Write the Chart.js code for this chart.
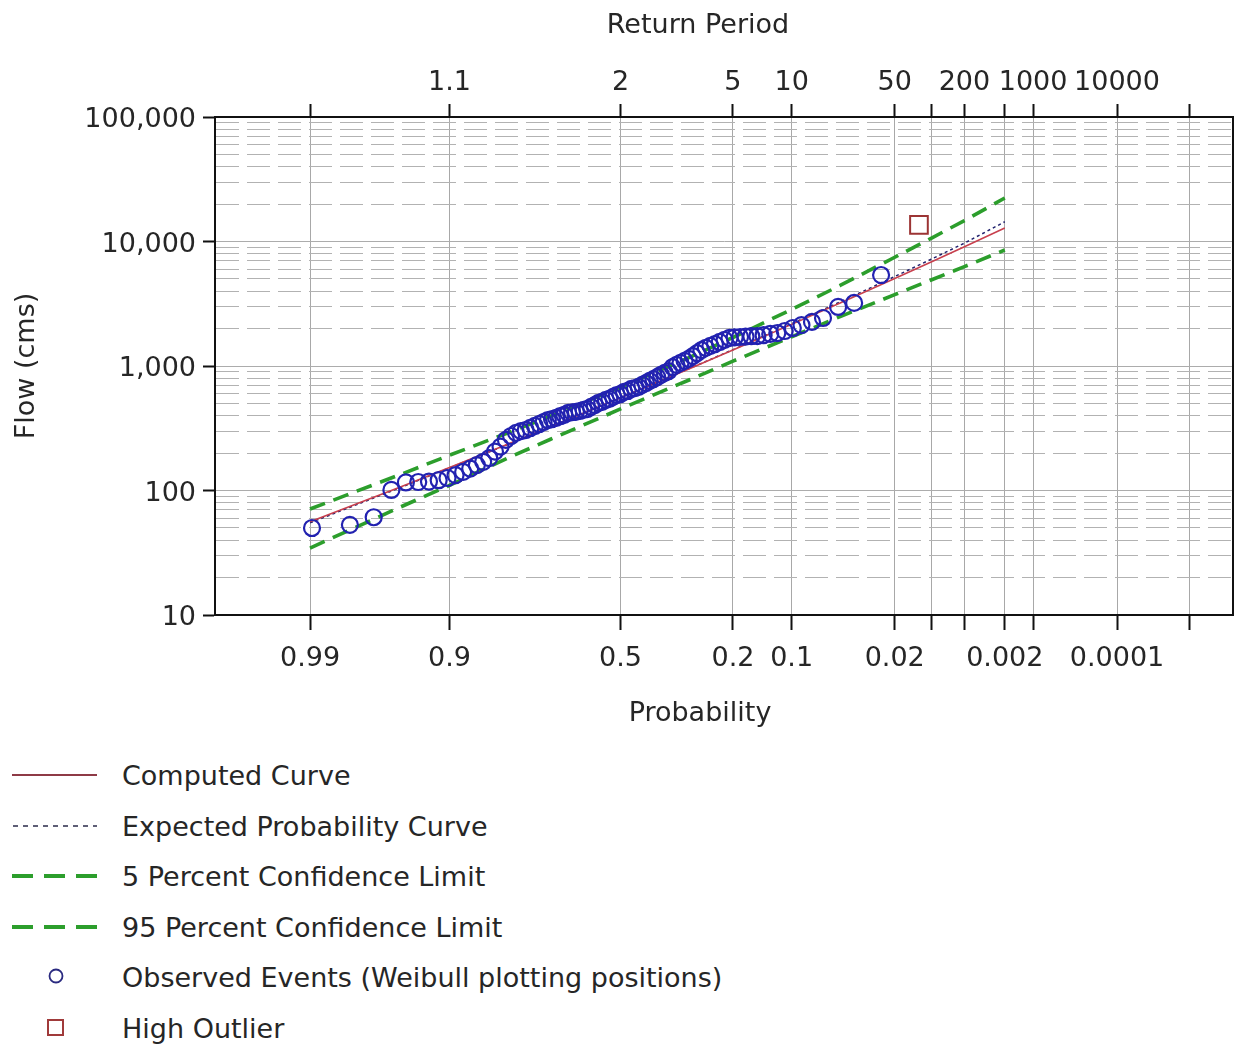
<!DOCTYPE html>
<html><head><meta charset="utf-8">
<script src="https://cdn.jsdelivr.net/npm/chart.js@4.4.1/dist/chart.umd.min.js"></script>
<style>
html,body{margin:0;padding:0;background:#fff;}
#wrap{position:relative;width:1237px;height:1045px;overflow:hidden;font-family:"DejaVu Sans",sans-serif;}
#c{position:absolute;left:0;top:0;}
#legend{position:absolute;left:0;top:750px;width:1237px;}
.row{position:relative;height:50.5px;}
.row svg{position:absolute;left:0;top:0;}
.row span{position:absolute;left:122px;top:1px;line-height:50.5px;font-size:27px;color:#262626;white-space:nowrap;}
</style></head><body>
<div id="wrap"><canvas id="c" width="1237" height="740"></canvas><div id="legend"></div></div>
<script>
// ---------------- data ----------------
// exceedance probability of each plotted observed event (rank 2 .. last)
const obsProb = [0.0255,0.0401,0.0516,0.0647,0.0758,0.0877,0.0985,0.1094,0.1202,0.1311,0.1420,0.1528,0.1637,0.1746,0.1854,0.1963,0.2072,0.2180,0.2289,0.2398,0.2506,0.2615,0.2724,0.2832,0.2941,0.3050,0.3158,0.3267,0.3376,0.3484,0.3593,0.3702,0.3810,0.3919,0.4028,0.4136,0.4245,0.4354,0.4462,0.4571,0.4680,0.4788,0.4897,0.5006,0.5114,0.5223,0.5332,0.5440,0.5549,0.5658,0.5766,0.5875,0.5984,0.6092,0.6201,0.6310,0.6418,0.6527,0.6636,0.6744,0.6853,0.6962,0.7070,0.7179,0.7288,0.7396,0.7505,0.7614,0.7722,0.7831,0.7940,0.8048,0.8157,0.8266,0.8374,0.8483,0.8592,0.8700,0.8809,0.8918,0.9026,0.9135,0.9244,0.9352,0.9461,0.9570,0.9678,0.9787,0.9896];
const obsFlow = [5380,3210,2980,2430,2260,2130,2020,1910,1840,1810,1770,1740,1735,1720,1710,1700,1680,1620,1560,1500,1450,1400,1340,1270,1200,1140,1100,1060,1020,980,910,880,850,815,785,760,730,705,680,665,655,630,620,595,585,565,545,535,515,505,485,470,450,445,435,428,425,420,405,395,383,375,368,355,342,330,318,306,300,290,274,255,225,205,182,170,160,150,141,133,126,121,118,117,116,101,61,53,50];
const outlierProb = [0.0127];
const outlierFlow = [13600];

const curveProb     = [0.99,0.95,0.9,0.8,0.7,0.5,0.3,0.2,0.1,0.05,0.02,0.01,0.005,0.002];
const computedFlow  = [56,107,153,236,325,556,961,1346,2160,3211,5050,6850,9085,12830];
const expectedFlow  = [55,106,152,235,325,556,963,1352,2185,3270,5230,7200,9700,14400];
const upper5Flow    = [71,135,192,291,395,676,1183,1694,2847,4433,7470,10610,14730,22340];
const lower95Flow   = [34.5,74,110,183,258,452,781,1094,1716,2493,3744,4905,6285,8551];

// axis ticks
const probTicks        = [0.99,0.9,0.5,0.2,0.1,0.02,0.01,0.005,0.002,0.001,0.0001,0.00001];
const probTickLabels   = ['0.99','0.9','0.5','0.2','0.1','0.02','','','0.002','','0.0001',''];
const returnTickLabels = ['','1.1','2','5','10','50','','200','','1000','10000',''];
const flowDecades      = [10,100,1000,10000,100000];
const flowMultipliers  = [1,2,3,4,5,6,7,8,9];
const probRange        = [0.99881, 2.24e-6];   // left / right edge of the probability axis
const flowRange        = [10, 100000];

const seriesLabels = ['Computed Curve','Expected Probability Curve','5 Percent Confidence Limit','95 Percent Confidence Limit','Observed Events (Weibull plotting positions)','High Outlier'];

// ---------------- normal probability scale ----------------
function normInv(p){
  const a=[-3.969683028665376e+01,2.209460984245205e+02,-2.759285104469687e+02,1.383577518672690e+02,-3.066479806614716e+01,2.506628277459239e+00];
  const b=[-5.447609879822406e+01,1.615858368580409e+02,-1.556989798598866e+02,6.680131188771972e+01,-1.328068155288572e+01];
  const c=[-7.784894002430293e-03,-3.223964580411365e-01,-2.400758277161838e+00,-2.549732539343734e+00,4.374664141464968e+00,2.938163982698783e+00];
  const d=[7.784695709041462e-03,3.224671290700398e-01,2.445134137142996e+00,3.754408661907416e+00];
  const pl=0.02425, ph=1-pl; let q,r;
  if(p<pl){q=Math.sqrt(-2*Math.log(p));return (((((c[0]*q+c[1])*q+c[2])*q+c[3])*q+c[4])*q+c[5])/((((d[0]*q+d[1])*q+d[2])*q+d[3])*q+1);}
  if(p<=ph){q=p-0.5;r=q*q;return (((((a[0]*r+a[1])*r+a[2])*r+a[3])*r+a[4])*r+a[5])*q/(((((b[0]*r+b[1])*r+b[2])*r+b[3])*r+b[4])*r+1);}
  q=Math.sqrt(-2*Math.log(1-p));return -(((((c[0]*q+c[1])*q+c[2])*q+c[3])*q+c[4])*q+c[5])/((((d[0]*q+d[1])*q+d[2])*q+d[3])*q+1);
}
function normCdf(z){ // Abramowitz-Stegun
  const t=1/(1+0.2316419*Math.abs(z));
  const y=0.3989423*Math.exp(-z*z/2)*t*(0.3193815+t*(-0.3565638+t*(1.781478+t*(-1.821256+t*1.330274))));
  return z>0?1-y:y;
}
const exceedToZ = p => -normInv(p);

class ProbabilityScale extends Chart.Scale {
  static id = 'probability';
  static defaults = {};
  determineDataLimits(){ this.min = probRange[0]; this.max = probRange[1]; }
  buildTicks(){ return probTicks.map(v => ({value: v})); }
  getLabelForValue(v){ return String(v); }
  configure(){ super.configure(); this._zmin = exceedToZ(this.min); this._zmax = exceedToZ(this.max); }
  getPixelForValue(v){ return this.getPixelForDecimal((exceedToZ(v) - this._zmin) / (this._zmax - this._zmin)); }
  getValueForPixel(px){ const z = this._zmin + this.getDecimalForPixel(px) * (this._zmax - this._zmin); return 1 - normCdf(z); }
}
Chart.register(ProbabilityScale);

// ---------------- chart ----------------
const pts = (xs, ys) => xs.map((x, i) => ({x, y: ys[i]}));
const isDecade = v => Math.abs(Math.log10(v) - Math.round(Math.log10(v))) < 1e-9;
const yTicks = [];
flowDecades.forEach(d => flowMultipliers.forEach(m => { if (d * m <= flowRange[1]) yTicks.push(d * m); }));

const FONT = {family: 'DejaVu Sans', size: 27};
const TXT = '#262626', AXIS = '#111111', GRID = '#a8a8a8';
const COLORS = {computed:'#c8404e', expected:'#22226e', conf:'#2c9e2c', obs:'#2222b0', out:'#9c3434'};
const TARGET_AREA = {left: 215, top: 117, right: 1233, bottom: 615};

const framePlugin = {
  id: 'frameAndTitles',
  afterDraw(chart){
    const {ctx, chartArea: a} = chart;
    ctx.save();
    ctx.strokeStyle = AXIS; ctx.lineWidth = 2;
    ctx.beginPath(); ctx.moveTo(a.right, a.top - 1); ctx.lineTo(a.right, a.bottom + 1); ctx.stroke();
    ctx.font = '27px "DejaVu Sans"';
    ctx.fillStyle = TXT; ctx.textAlign = 'center'; ctx.textBaseline = 'middle';
    const cx = (a.left + a.right) / 2 - 26;
    ctx.fillText('Return Period', cx, 26);
    ctx.fillText('Probability', cx + 2, 714);
    ctx.translate(27, (a.top + a.bottom) / 2);
    ctx.rotate(-Math.PI / 2);
    ctx.fillText('Flow (cms)', 0, 0);
    ctx.restore();
  }
};

const chart = new Chart(document.getElementById('c'), {
  type: 'scatter',
  data: {
    datasets: [
      {label: seriesLabels[0], data: pts(curveProb, computedFlow), showLine: true, borderColor: COLORS.computed, borderWidth: 1.6, pointRadius: 0, order: 2},
      {label: seriesLabels[1], data: pts(curveProb, expectedFlow), showLine: true, borderColor: COLORS.expected, borderWidth: 1.5, borderDash: [3, 3], pointRadius: 0, order: 2},
      {label: seriesLabels[2], data: pts(curveProb, upper5Flow), showLine: true, borderColor: COLORS.conf, borderWidth: 3.6, borderDash: [16, 9], pointRadius: 0, order: 3},
      {label: seriesLabels[3], data: pts(curveProb, lower95Flow), showLine: true, borderColor: COLORS.conf, borderWidth: 3.6, borderDash: [16, 9], pointRadius: 0, order: 3},
      {label: seriesLabels[4], data: pts(obsProb, obsFlow), showLine: false, pointStyle: 'circle', pointRadius: 8, pointBorderWidth: 2.2, borderColor: COLORS.obs, backgroundColor: 'rgba(0,0,0,0)', order: 1},
      {label: seriesLabels[5], data: pts(outlierProb, outlierFlow), showLine: false, pointStyle: 'rect', pointRadius: 12.5, pointBorderWidth: 2, borderColor: COLORS.out, backgroundColor: 'rgba(0,0,0,0)', order: 0}
    ]
  },
  options: {
    responsive: false, animation: false, devicePixelRatio: 1,
    layout: {autoPadding: false, padding: {left: 0, top: 0, right: 4, bottom: 0}},
    plugins: {legend: {display: false}, tooltip: {enabled: false}},
    scales: {
      x: {
        type: 'probability', position: 'bottom', axis: 'x',
        afterFit: s => { s.height = 125; },
        grid: {color: GRID, lineWidth: 1, tickLength: 15, tickColor: AXIS, tickWidth: 2},
        border: {color: AXIS, width: 2},
        ticks: {autoSkip: false, maxRotation: 0, minRotation: 0, padding: 13, font: FONT, color: TXT,
                callback: (v, i) => probTickLabels[i]}
      },
      x2: {
        type: 'probability', position: 'top', axis: 'x',
        afterFit: s => { s.height = 117; },
        grid: {drawOnChartArea: false, tickLength: 13, tickColor: AXIS, tickWidth: 2},
        border: {color: AXIS, width: 2},
        ticks: {autoSkip: false, maxRotation: 0, minRotation: 0, padding: 5, font: FONT, color: TXT,
                callback: (v, i) => returnTickLabels[i]}
      },
      y: {
        type: 'logarithmic', position: 'left', min: flowRange[0], max: flowRange[1],
        afterFit: s => { s.width = 215; },
        afterBuildTicks: s => { s.ticks = yTicks.map(v => ({value: v, major: isDecade(v)})); },
        grid: {
          color: ctx => (ctx.tick && isDecade(ctx.tick.value)) ? '#acacac' : '#b2b2b2',
          lineWidth: 1, tickLength: 12, tickWidth: 2,
          tickColor: ctx => (ctx.tick && isDecade(ctx.tick.value)) ? AXIS : 'rgba(0,0,0,0)'
        },
        border: {color: AXIS, width: 2, dash: ctx => (ctx.tick && !isDecade(ctx.tick.value)) ? [23, 8] : []},
        ticks: {autoSkip: false, padding: 7, labelOffset: 3, font: FONT, color: TXT,
                callback: v => isDecade(v) ? Number(v).toLocaleString('en-US') : ''}
      }
    }
  },
  plugins: [framePlugin]
});

// make the plot area sit exactly where the reference has it (fallback)
(function fitArea(){
  const a = chart.chartArea, p = chart.config.options.layout.padding;
  const dr = TARGET_AREA.right - a.right;
  if (Math.abs(dr) > 0.5) { p.right = p.right - dr; chart.update(); }
})();

// ---------------- legend (HTML) ----------------
const legendSamples = [
  '<line x1="12" y1="25" x2="97" y2="25" stroke="#8e3a46" stroke-width="2"/>',
  '<line x1="13" y1="25" x2="97" y2="25" stroke="#2a2a4a" stroke-width="1.6" stroke-dasharray="5 5"/>',
  '<line x1="12" y1="25" x2="97" y2="25" stroke="#2c9e2c" stroke-width="4" stroke-dasharray="21 11"/>',
  '<line x1="12" y1="25" x2="97" y2="25" stroke="#2c9e2c" stroke-width="4" stroke-dasharray="21 11"/>',
  '<circle cx="56" cy="24" r="6.5" fill="none" stroke="#2a2a80" stroke-width="1.8"/>',
  '<rect x="48" y="17" width="15" height="15" fill="none" stroke="#a03a3a" stroke-width="2"/>'
];
const lg = document.getElementById('legend');
chart.data.datasets.forEach((ds, i) => {
  const row = document.createElement('div');
  row.className = 'row';
  row.innerHTML = '<svg width="110" height="50" viewBox="0 0 110 50">' + legendSamples[i] + '</svg><span>' + ds.label + '</span>';
  lg.appendChild(row);
});
</script>
</body></html>
